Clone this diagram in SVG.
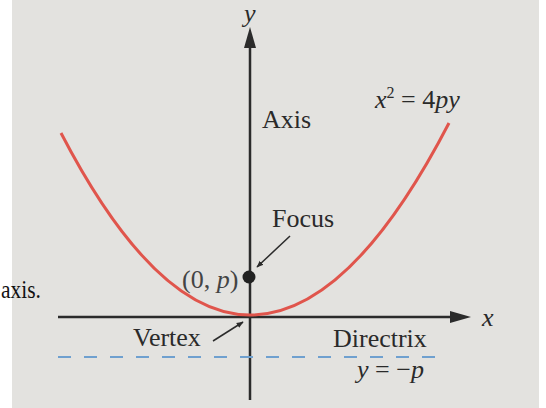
<svg xmlns="http://www.w3.org/2000/svg" width="546" height="408" viewBox="0 0 546 408">
  <defs>
    <marker id="ah" viewBox="0 0 10 10" refX="9" refY="5" markerWidth="7" markerHeight="7" orient="auto" markerUnits="userSpaceOnUse">
      <path d="M0,1 L10,5 L0,9 Z" fill="#2b2b2b"/>
    </marker>
  </defs>
  <style>
    .t { font-family: "Liberation Serif", "Times New Roman", serif; fill: #2a2a2a; font-size: 26px; }
    .i { font-style: italic; }
    .ax { stroke: #2b2b2b; stroke-width: 2.5; fill: none; }
    .ptr { stroke: #2b2b2b; stroke-width: 1.5; fill: none; marker-end: url(#ah); }
  </style>
  <rect x="0" y="0" width="546" height="408" fill="#ffffff"/>
  <rect x="12" y="0" width="527" height="408" fill="#e3e2df"/>
  <text class="t" x="1" y="298" textLength="40" lengthAdjust="spacingAndGlyphs" style="fill:#111">axis.</text>

  <g id="connectors">
    <line class="ax" x1="58" y1="317" x2="452" y2="317"/>
    <path d="M450,311 L471,317 L450,323 Z" fill="#2b2b2b"/>
    <line class="ax" x1="250" y1="400" x2="250" y2="46"/>
    <path d="M244,48 L250,27 L256,48 Z" fill="#2b2b2b"/>
    <line x1="58" y1="357" x2="446" y2="357" stroke="#6fa0cf" stroke-width="2.2" stroke-dasharray="13,13"/>
    <line class="ptr" x1="290" y1="236" x2="257" y2="267"/>
    <line class="ptr" x1="213" y1="341" x2="243" y2="322"/>
  </g>

  <g id="parabola">
    <path d="M61,133 Q155.5,315 250,315 Q349.5,315 449,123" fill="none" stroke="#e0554c" stroke-width="3"/>
  </g>

  <g id="focus">
    <circle cx="249" cy="277" r="6.5" fill="#222"/>
    <text class="t" x="182" y="288" font-size="24" style="fill:#444">(0, <tspan class="i">p</tspan>)</text>
    <text class="t" x="272" y="227">Focus</text>
  </g>
  <g id="vertex">
    <text class="t" x="133" y="346">Vertex</text>
  </g>
  <g id="directrix">
    <text class="t" x="333" y="347">Directrix</text>
    <text class="t" x="357" y="378"><tspan class="i">y</tspan> = −<tspan class="i">p</tspan></text>
  </g>
  <g id="axis-label">
    <text class="t" x="262" y="128">Axis</text>
  </g>
  <g id="equation">
    <text class="t" x="375" y="108"><tspan class="i">x</tspan><tspan font-size="16" dy="-10">2</tspan><tspan dy="10"> = 4</tspan><tspan class="i">py</tspan></text>
  </g>
  <g id="axis-names">
    <text class="t i" x="244" y="22" font-size="22">y</text>
    <text class="t i" x="482" y="326">x</text>
  </g>
</svg>
